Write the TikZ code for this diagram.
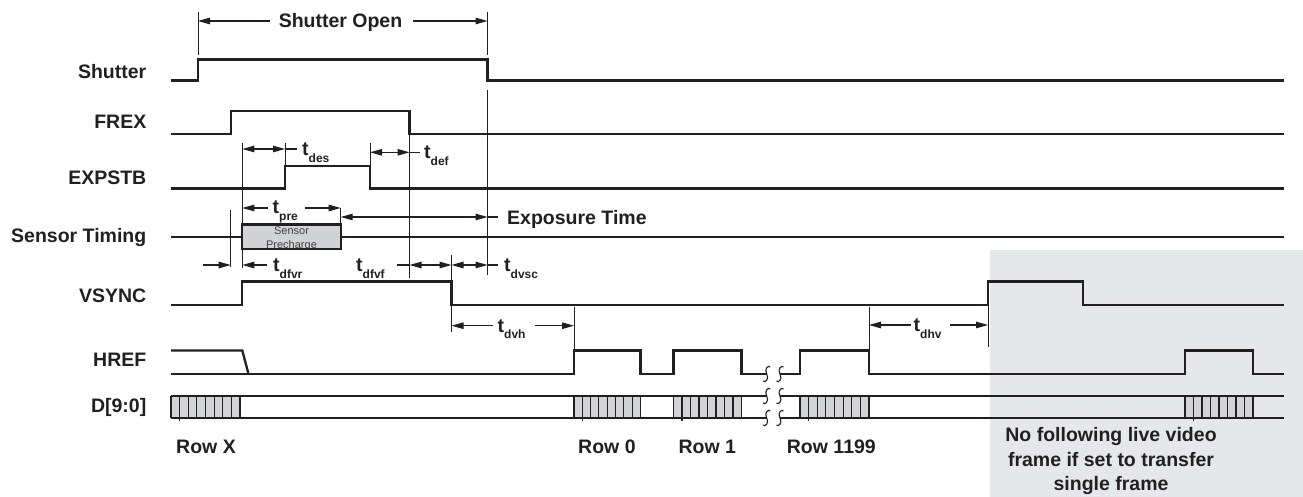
\documentclass[tikz,border=0pt]{standalone}
\usepackage{fontspec}
\setmainfont{Liberation Sans}
\usetikzlibrary{arrows.meta}

\definecolor{ink}{HTML}{231F20}
\definecolor{framegray}{HTML}{E6E7E8}
\definecolor{cellgray}{HTML}{D1D3D4}

\newcommand{\tsub}[1]{t\raisebox{-6.5pt}{\fontsize{12}{12}\selectfont #1}}
\newcommand{\brk}[2]{\draw[squig] (#1+3.5,#2-7) .. controls (#1+2,#2-9.5) and (#1-3,#2-5) .. (#1,#2) .. controls (#1+3,#2+5) and (#1-2,#2+9.5) .. (#1-3.5,#2+7);}

\tikzset{
    wave/.style={ink, line width=2.3pt, line join=miter},
    guide/.style={ink, line width=0.9pt},
    dimline/.style={ink, line width=1.1pt},
    both/.style={dimline, {Triangle[length=12pt,width=6.5pt]}-{Triangle[length=12pt,width=6.5pt]}},
    tip/.style={dimline, -{Triangle[length=12pt,width=6.5pt]}},
    squig/.style={ink, line width=1.1pt},
    sig/.style={anchor=east, inner sep=0pt, text=ink, font=\fontsize{19.5}{22}\selectfont\bfseries},
    tlab/.style={anchor=base west, inner sep=0pt, text=ink, font=\fontsize{19.5}{22}\selectfont\bfseries},
    note/.style={anchor=base, inner sep=0pt, text=ink, font=\fontsize{19.5}{22}\selectfont\bfseries},
}

\begin{document}
\begin{tikzpicture}[x=1pt, y=-1pt]
    \useasboundingbox (0,0) rectangle (1303,497);
    % single frame area
    \fill[framegray] (990,250) rectangle (1303,497);

    % signal names
    \node[sig] (lShutter) at (146.5,72) {Shutter};
    \node[sig] (lFrex) at (146.5,122) {FREX};
    \node[sig] (lExpstb) at (146.5,178) {EXPSTB};
    \node[sig] (lSensor) at (146.5,238) {Sensor Timing};
    \node[sig] (lVsync) at (146.5,296) {VSYNC};
    \node[sig] (lHref) at (146.5,360) {HREF};
    \node[sig] (lData) at (146.5,407.5) {D[9:0]};

    % data blocks
    \foreach \a/\b in {171/240, 574/640.5, 673.5/741.5, 800/869, 1185/1253} {
        \fill[cellgray] (\a,396) rectangle (\b,418);
        \foreach \i in {0,...,8}
            \draw[ink, line width=1.1pt] ({\a+\i*(\b-\a)/8},396) -- ({\a+\i*(\b-\a)/8},418);
        \draw[ink, line width=1.1pt] ({\a+(\b-\a)/8},418) -- ++(0,3);
    }

    % waveforms
    \draw[wave] (171,80.5) -- (198,80.5) -- (198,59.5) -- (487.5,59.5) -- (487.5,80.5) -- (1284,80.5);
    \draw[wave] (171,134) -- (230.7,134) -- (230.7,111) -- (409.5,111) -- (409.5,134) -- (1284,134);
    \draw[wave] (171,188.5) -- (285,188.5) -- (285,166) -- (370,166) -- (370,188.5) -- (1284,188.5);
    \draw[wave] (171,237.3) -- (242.3,237.3) (340.7,237.3) -- (1284,237.3);
    \draw[wave] (171,305) -- (242.3,305) -- (242.3,281.5) -- (451.5,281.5) -- (451.5,305)
        -- (988,305) -- (988,281.5) -- (1083,281.5) -- (1083,305) -- (1284,305);
    \draw[wave] (171,350.5) -- (242.3,350.5) -- (248.5,374);
    \draw[wave] (171,374) -- (574,374) -- (574,350.5) -- (640.5,350.5) -- (640.5,374)
        -- (673.5,374) -- (673.5,350.5) -- (741.5,350.5) -- (741.5,374) -- (766.7,374);
    \draw[wave] (780,374) -- (800,374) -- (800,350.5) -- (869,350.5) -- (869,374)
        -- (1185,374) -- (1185,350.5) -- (1253,350.5) -- (1253,374) -- (1284,374);
    \draw[wave] (171,396) -- (766.7,396) (780,396) -- (1284,396);
    \draw[wave] (171,418) -- (766.7,418) (780,418) -- (1284,418);
    \draw[wave] (171,396) -- (171,418);
    \foreach \x in {766.7,780} {
        \brk{\x}{374}
        \brk{\x}{396}
        \brk{\x}{418}
    }

    % sensor precharge
    \fill[cellgray] (242.3,224.5) rectangle (340.7,249);
    \node[inner sep=0pt, text=ink!85, font=\fontsize{11}{12}\selectfont] (pre1) at (291.5,230.5) {Sensor};
    \node[inner sep=0pt, text=ink!85, font=\fontsize{11}{12}\selectfont] (pre2) at (291.5,245.5) {Precharge};
    \fill[white] (242.3,250.2) rectangle (340.7,256);
    \draw[wave] (242.3,224.5) rectangle (340.7,249);

    % reference lines
    \draw[guide] (198,12) -- (198,55);
    \draw[guide] (487.5,12) -- (487.5,55);
    \draw[guide] (487.5,90) -- (487.5,275);
    \draw[guide] (242.3,143) -- (242.3,268);
    \draw[guide] (285,143) -- (285,166);
    \draw[guide] (370,143) -- (370,166);
    \draw[guide] (409.5,134) -- (409.5,278);
    \draw[guide] (230.7,210) -- (230.7,267);
    \draw[guide] (340.7,208) -- (340.7,224.5);
    \draw[guide] (451.5,255) -- (451.5,281.5);
    \draw[guide] (451.5,305) -- (451.5,332);
    \draw[guide] (574,307) -- (574,350.5);
    \draw[guide] (869,307) -- (869,350.5);
    \draw[guide] (988,305) -- (988,347);

    % timing labels
    \node[note] (open) at (340.5,27.5) {Shutter Open};
    \draw[tip] (270,21) -- (198,21);
    \draw[tip] (413,21) -- (487.5,21);

    \draw[both] (242.3,149) -- (285,149);
    \draw[dimline] (285,149) -- (297,149);
    \node[tlab] (tdes) at (302,156) {\tsub{des}};

    \draw[both] (370,152.3) -- (409.5,152.3);
    \draw[dimline] (409.5,152.3) -- (420,152.3);
    \node[tlab] (tdef) at (424,159) {\tsub{def}};

    \draw[tip] (268,208) -- (242.3,208);
    \draw[tip] (305,208) -- (340.7,208);
    \node[tlab] (tpre) at (272.5,214) {\tsub{pre}};

    \draw[both] (340.7,217) -- (487.5,217);
    \draw[dimline] (487.5,217) -- (498,217);
    \node[tlab] (expo) at (507,224) {Exposure Time};

    \draw[tip] (203,265) -- (230.7,265);
    \draw[tip] (267,265) -- (242.3,265);
    \node[tlab] (tdfvr) at (273,271.5) {\tsub{dfvr}};

    \node[tlab] (tdfvf) at (356,271.5) {\tsub{dfvf}};
    \draw[dimline] (397,265) -- (409.5,265);
    \draw[both] (409.5,265) -- (451.5,265);

    \draw[both] (451.5,265) -- (487.5,265);
    \draw[dimline] (487.5,265) -- (498,265);
    \node[tlab] (tdvsc) at (504,271.5) {\tsub{dvsc}};

    \draw[tip] (493,325.7) -- (451.5,325.7);
    \draw[tip] (535,325.7) -- (574,325.7);
    \node[tlab] (tdvh) at (497.5,332) {\tsub{dvh}};

    \draw[tip] (911,325) -- (869,325);
    \draw[tip] (950,325) -- (988,325);
    \node[tlab] (tdhv) at (913.5,331.5) {\tsub{dhv}};

    % rows
    \node[tlab] (rowX) at (176,453.3) {Row X};
    \node[tlab] (row0) at (578,453.3) {Row 0};
    \node[tlab] (row1) at (678.3,453.3) {Row 1};
    \node[tlab] (rowN) at (786.7,453.3) {Row 1199};

    \node[note] (gone1) at (1111,441.5) {No following live video};
    \node[note] (gone2) at (1111,466.5) {frame if set to transfer};
    \node[note] (gone3) at (1111,490) {single frame};
\end{tikzpicture}
\end{document}
